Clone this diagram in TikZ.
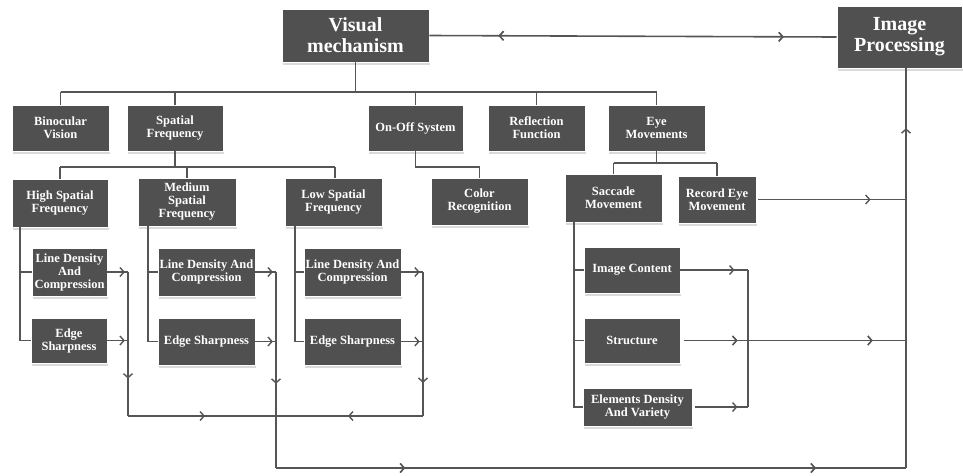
\documentclass[tikz,border=0pt]{standalone}
\usepackage{fontspec}
\setmainfont{Liberation Serif}
\usetikzlibrary{arrows.meta,decorations.markings,shadows}
\definecolor{boxgray}{HTML}{505050}
\definecolor{linegray}{HTML}{555555}
\tikzset{
  box/.style={fill=boxgray, text=white, font=\bfseries\fontsize{12.5}{13}\selectfont,
    align=center, inner sep=1pt, draw=white, line width=0.6pt,
    drop shadow={shadow xshift=1pt, shadow yshift=-2.5pt, fill=black!18, opacity=0.8}},
  bigbox/.style={box, font=\bfseries\fontsize{20}{21}\selectfont},
  conn/.style={draw=linegray, line width=1.6pt},
  arr/.style={postaction={decorate}, decoration={markings,
    mark=at position #1 with {\arrow[linegray, line width=1.4pt]{Straight Barb[length=4pt,width=9pt]}}}},
  rarr/.style={postaction={decorate}, decoration={markings,
    mark=at position #1 with {\arrowreversed[linegray, line width=1.4pt]{Straight Barb[length=4pt,width=9pt]}}}},
}
\begin{document}
\begin{tikzpicture}[x=1pt,y=-1pt]
\useasboundingbox (0,0) rectangle (963,475);
% top level
\node[bigbox, minimum width=147pt, minimum height=53pt] (vm) at (355.5,35.5) {Visual\\mechanism};
\node[bigbox, minimum width=125pt, minimum height=62pt] (ip) at (899.5,37) {Image\\Processing};
% row 2
\node[box, minimum width=97pt, minimum height=46pt] (bv) at (60.5,128) {Binocular\\Vision};
\node[box, minimum width=96pt, minimum height=46pt] (sf) at (175,128) {Spatial\\Frequency};
\node[box, minimum width=95pt, minimum height=46pt] (oo) at (415.5,128) {On-Off System};
\node[box, minimum width=97pt, minimum height=46pt] (rf) at (536.5,128) {Reflection\\Function};
\node[box, minimum width=97pt, minimum height=46pt] (em) at (656.5,128) {Eye\\Movements};
% row 3
\node[box, minimum width=96pt, minimum height=48pt] (hsf) at (60,203) {High Spatial\\Frequency};
\node[box, minimum width=98pt, minimum height=48pt] (msf) at (187,202) {Medium\\Spatial\\Frequency};
\node[box, minimum width=97pt, minimum height=48pt] (lsf) at (333.5,202) {Low Spatial\\Frequency};
\node[box, minimum width=97pt, minimum height=47pt] (cr) at (479.5,201.5) {Color\\Recognition};
\node[box, minimum width=97pt, minimum height=48pt] (sm) at (613.5,198) {Saccade\\Movement};
\node[box, minimum width=78pt, minimum height=47pt] (rem) at (717,199.5) {Record Eye\\Movement};
% row 4
\node[box, minimum width=75pt, minimum height=48pt] (hld) at (69.5,272) {Line Density\\And\\Compression};
\node[box, minimum width=76pt, minimum height=45pt] (hes) at (69,340.5) {Edge\\Sharpness};
\node[box, minimum width=97pt, minimum height=48pt] (mld) at (206.5,272) {Line Density And\\Compression};
\node[box, minimum width=97pt, minimum height=47pt] (mes) at (206.5,341.5) {Edge Sharpness};
\node[box, minimum width=97pt, minimum height=48pt] (lld) at (352.5,272) {Line Density And\\Compression};
\node[box, minimum width=97pt, minimum height=47pt] (les) at (352.5,341.5) {Edge Sharpness};
\node[box, minimum width=96pt, minimum height=46pt] (ic) at (632,270) {Image Content};
\node[box, minimum width=96pt, minimum height=45pt] (st) at (632,340.5) {Structure};
\node[box, minimum width=109pt, minimum height=38pt] (ed) at (637.5,407) {Elements Density\\And Variety};
% junction coordinates
\coordinate (b0) at (355.5,92);
\coordinate (s0) at (175,167);
\coordinate (o0) at (415.5,167);
\coordinate (e0) at (656.5,163);
\coordinate (h1) at (128,272);
\coordinate (h2) at (128,340.5);
\coordinate (h3) at (128,416);
\coordinate (m1) at (276,272);
\coordinate (m2) at (276,341.5);
\coordinate (m4) at (276,416);
\coordinate (m5) at (276,468);
\coordinate (l1) at (423,272);
\coordinate (l2) at (423,341.5);
\coordinate (l3) at (423,416);
\coordinate (r5) at (906,468);
\coordinate (c1) at (748,270);
\coordinate (c2) at (748,407);
\coordinate (rs) at (906,340.5);
\coordinate (rr) at (906,199.5);
% top link
\draw[conn, rarr=0.17, arr=0.87] (vm.east) -- (ip.west);
% tree from visual mechanism
\draw[conn] (vm.south) -- (b0);
\draw[conn] (60.5,92) -- (656.5,92);
\foreach \n in {bv,sf,oo,rf,em} \draw[conn] (\n.north |- b0) -- (\n.north);
% spatial frequency
\draw[conn] (sf.south) -- (s0);
\draw[conn] (60,167) -- (335,167);
\draw[conn] (hsf.north |- s0) -- (hsf.north);
\draw[conn] (msf.north |- s0) -- (msf.north);
\draw[conn] (335,167) -- (335,178);
% on-off
\draw[conn] (oo.south) -- (o0) -| (cr.north);
% eye movements
\draw[conn] (em.south) -- (e0);
\draw[conn] (613.5,163) -- (717,163);
\draw[conn] (sm.north |- e0) -- (sm.north);
\draw[conn] (rem.north |- e0) -- (rem.north);
% children of frequency boxes
\draw[conn] (20,227) -- (20,340.5) -- (hes.west);
\draw[conn] (20,272) -- (hld.west);
\draw[conn] (148,226) -- (148,341.5) -- (mes.west);
\draw[conn] (148,272) -- (mld.west);
\draw[conn] (295,226) -- (295,341.5) -- (les.west);
\draw[conn] (295,272) -- (lld.west);
% collectors
\draw[conn, arr=0.85] (hld.east) -- (h1);
\draw[conn, arr=0.85] (hes.east) -- (h2);
\draw[conn, arr=0.74] (h1) -- (h3);
\draw[conn, arr=0.85] (mld.east) -- (m1);
\draw[conn, arr=0.85] (mes.east) -- (m2);
\draw[conn, arr=0.57] (m1) -- (m5);
\draw[conn, arr=0.85] (lld.east) -- (l1);
\draw[conn, arr=0.85] (les.east) -- (l2);
\draw[conn, arr=0.77] (l1) -- (l3);
\draw[conn, arr=0.52] (h3) -- (m4);
\draw[conn, arr=0.51] (l3) -- (m4);
\draw[conn, arr=0.205, arr=0.857] (m5) -- (r5);
\draw[conn, line width=2pt, arr=0.85] (r5) -- (r5 |- ip.south);
% saccade children
\draw[conn] (574,222) -- (574,407) -- (ed.west);
\draw[conn] (574,270) -- (ic.west);
\draw[conn] (574,340.5) -- (st.west);
\draw[conn, arr=0.8] (ic.east) -- (c1);
\draw[conn] (c1) -- (c2);
\draw[conn, arr=0.8] ([xshift=3pt]ed.east) -- (c2);
\draw[conn, arr=0.24, arr=0.85] ([xshift=4pt]st.east) -- (rs);
\draw[conn, arr=0.76] ([xshift=2pt]rem.east) -- (rr);
\end{tikzpicture}
\end{document}
